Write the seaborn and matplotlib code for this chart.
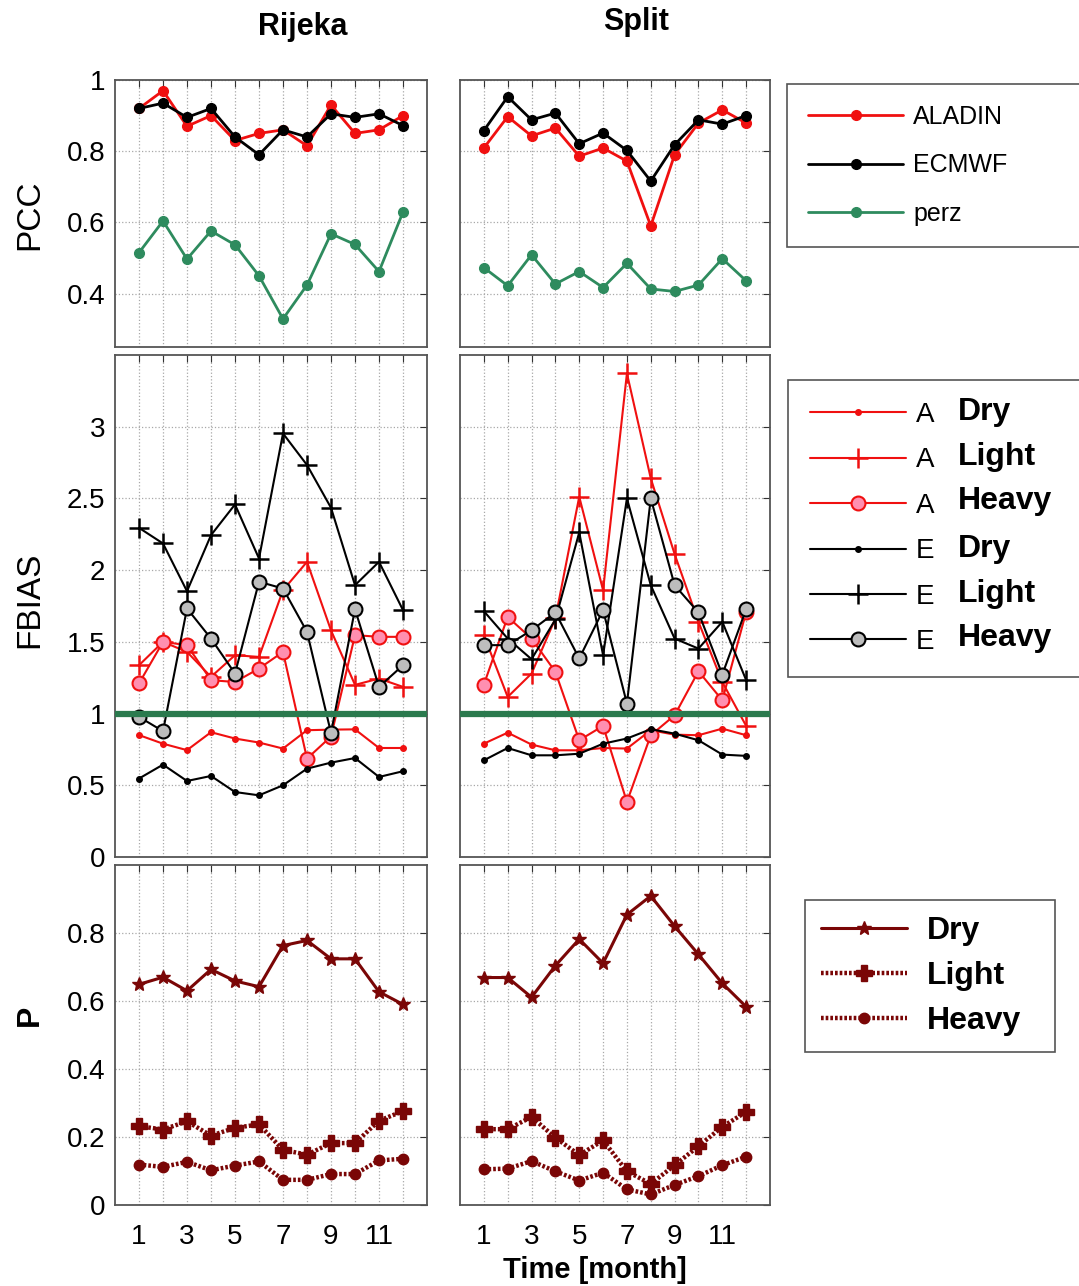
import matplotlib
matplotlib.use("Agg")
import matplotlib.pyplot as plt
import seaborn as sns

# data (month 1..12)
months = list(range(1, 13))

# PCC
pcc_rij_aladin = [0.92, 0.97, 0.87, 0.90, 0.83, 0.85, 0.86, 0.815, 0.93, 0.85, 0.86, 0.90]
pcc_rij_ecmwf = [0.92, 0.935, 0.895, 0.92, 0.84, 0.79, 0.86, 0.84, 0.905, 0.895, 0.905, 0.872]
pcc_rij_perz = [0.515, 0.604, 0.497, 0.576, 0.537, 0.45, 0.329, 0.424, 0.568, 0.538, 0.462, 0.629]
pcc_spl_aladin = [0.809, 0.897, 0.843, 0.865, 0.786, 0.809, 0.772, 0.59, 0.79, 0.879, 0.916, 0.879]
pcc_spl_ecmwf = [0.858, 0.953, 0.888, 0.907, 0.821, 0.851, 0.802, 0.716, 0.818, 0.888, 0.876, 0.90]
pcc_spl_perz = [0.473, 0.422, 0.509, 0.427, 0.462, 0.417, 0.485, 0.413, 0.406, 0.424, 0.498, 0.436]

# FBIAS  (A = ALADIN, E = ECMWF)
fb_rij_a_dry = [0.85, 0.79, 0.745, 0.87, 0.826, 0.798, 0.756, 0.884, 0.888, 0.89, 0.76, 0.76]
fb_rij_a_light = [1.337, 1.50, 1.43, 1.256, 1.407, 1.395, 1.86, 2.058, 1.58, 1.20, 1.244, 1.186]
fb_rij_a_heavy = [1.21, 1.50, 1.477, 1.233, 1.22, 1.314, 1.43, 0.686, 0.84, 1.547, 1.535, 1.535]
fb_rij_e_dry = [0.547, 0.644, 0.53, 0.565, 0.453, 0.43, 0.50, 0.616, 0.658, 0.69, 0.558, 0.598]
fb_rij_e_light = [2.295, 2.186, 1.853, 2.244, 2.458, 2.081, 2.953, 2.733, 2.435, 1.895, 2.058, 1.721]
fb_rij_e_heavy = [0.977, 0.877, 1.733, 1.523, 1.279, 1.919, 1.872, 1.57, 0.865, 1.728, 1.186, 1.337]

fb_spl_a_dry = [0.79, 0.867, 0.784, 0.744, 0.744, 0.76, 0.756, 0.884, 0.853, 0.849, 0.895, 0.849]
fb_spl_a_light = [1.547, 1.116, 1.279, 1.663, 2.512, 1.86, 3.372, 2.64, 2.112, 1.64, 1.22, 0.914]
fb_spl_a_heavy = [1.202, 1.674, 1.523, 1.291, 0.814, 0.914, 0.384, 0.849, 0.988, 1.295, 1.093, 1.709]
fb_spl_e_dry = [0.674, 0.76, 0.709, 0.709, 0.72, 0.79, 0.826, 0.891, 0.86, 0.814, 0.714, 0.705]
fb_spl_e_light = [1.714, 1.523, 1.379, 1.656, 2.263, 1.407, 2.50, 1.895, 1.523, 1.453, 1.64, 1.233]
fb_spl_e_heavy = [1.477, 1.477, 1.581, 1.705, 1.384, 1.721, 1.07, 2.50, 1.895, 1.705, 1.272, 1.728]

# P
p_rij_dry = [0.649, 0.67, 0.63, 0.693, 0.659, 0.642, 0.763, 0.778, 0.724, 0.724, 0.627, 0.59]
p_rij_light = [0.232, 0.222, 0.246, 0.204, 0.227, 0.237, 0.162, 0.148, 0.182, 0.182, 0.248, 0.276]
p_rij_heavy = [0.119, 0.112, 0.127, 0.102, 0.116, 0.128, 0.074, 0.074, 0.091, 0.091, 0.131, 0.136]
p_spl_dry = [0.669, 0.669, 0.611, 0.704, 0.782, 0.711, 0.854, 0.909, 0.82, 0.737, 0.652, 0.583]
p_spl_light = [0.223, 0.223, 0.259, 0.198, 0.147, 0.19, 0.099, 0.062, 0.117, 0.173, 0.23, 0.274]
p_spl_heavy = [0.105, 0.107, 0.129, 0.099, 0.072, 0.095, 0.046, 0.031, 0.059, 0.085, 0.117, 0.142]

RED = "#f01010"
BLACK = "#000000"
GREEN = "#2e8b5e"
MAROON = "#7a0606"
PINK = "#ff8fb0"
GREY = "#bdbdbd"

sns.set_theme(style="white")
plt.rcParams["font.family"] = ["Liberation Sans", "DejaVu Sans"]
plt.rcParams["text.color"] = "black"
plt.rcParams["xtick.color"] = "black"
plt.rcParams["ytick.color"] = "black"
plt.rcParams["axes.labelcolor"] = "black"

fig = plt.figure(figsize=(10.79, 12.86), dpi=100)
W, H = 1079.0, 1286.0


def box(x0, y0, x1, y1):
    return [x0 / W, 1 - y1 / H, (x1 - x0) / W, (y1 - y0) / H]


cols = [(115, 427), (460, 770)]
rows = [(80, 347), (355, 857), (865, 1205)]

axes = [[fig.add_axes(box(c[0], r[0], c[1], r[1])) for c in cols] for r in rows]


def style_axis(ax, yticks, ylabels, ylim, show_x, show_y):
    ax.set_xlim(0, 13)
    ax.set_ylim(*ylim)
    ax.set_xticks(months)
    if show_x:
        ax.set_xticklabels([str(m) if m % 2 == 1 else "" for m in months])
    else:
        ax.set_xticklabels([])
    ax.set_yticks(yticks)
    ax.set_yticklabels(ylabels if show_y else [])
    ax.grid(True, ls=":", color="#a8a8a8", lw=0.9)
    ax.tick_params(direction="in", top=True, right=True, length=5, width=0.8,
                   color="#333333", labelcolor="black", labelsize=20, pad=7)
    ax.tick_params(axis="x", pad=14)
    for s in ax.spines.values():
        s.set_color("#555555")
        s.set_linewidth(1.3)
    ax.set_xlabel("")
    ax.set_ylabel("")


def line(ax, y, color, marker, ms, lw=1.6, ls="-", mfc=None, mec=None, mew=1.0):
    sns.lineplot(x=months, y=y, ax=ax, color=color, marker=marker, ms=ms, lw=lw,
                 ls=ls, mfc=mfc if mfc else color, mec=mec if mec else color,
                 mew=mew, errorbar=None, legend=False)
    return ax.lines[-1]


# ---- PCC row
pcc = [(pcc_rij_aladin, pcc_rij_ecmwf, pcc_rij_perz),
       (pcc_spl_aladin, pcc_spl_ecmwf, pcc_spl_perz)]
for j, (al, ec, pz) in enumerate(pcc):
    ax = axes[0][j]
    h1 = line(ax, al, RED, "o", 7, lw=2.0)
    h2 = line(ax, ec, BLACK, "o", 7, lw=2.0)
    h3 = line(ax, pz, GREEN, "o", 7, lw=2.0)
    style_axis(ax, [0.4, 0.6, 0.8, 1.0], ["0.4", "0.6", "0.8", "1"], (0.25, 1.0),
               False, j == 0)
    if j == 0:
        pcc_handles = [h1, h2, h3]

# ---- FBIAS row
fb = [(fb_rij_a_dry, fb_rij_a_light, fb_rij_a_heavy, fb_rij_e_dry, fb_rij_e_light, fb_rij_e_heavy),
      (fb_spl_a_dry, fb_spl_a_light, fb_spl_a_heavy, fb_spl_e_dry, fb_spl_e_light, fb_spl_e_heavy)]
for j, (ad, al, ah, ed, el, eh) in enumerate(fb):
    ax = axes[1][j]
    ax.axhline(1, color="#2b7a4e", lw=4.5, zorder=3)
    g1 = line(ax, ad, RED, "o", 4, lw=1.5)
    g2 = line(ax, al, RED, "+", 15, lw=1.5, mew=1.8)
    g3 = line(ax, ah, RED, "o", 10, lw=1.5, mfc=PINK, mec=RED, mew=1.5)
    g4 = line(ax, ed, BLACK, "o", 4, lw=1.5)
    g5 = line(ax, el, BLACK, "+", 15, lw=1.5, mew=1.8)
    g6 = line(ax, eh, BLACK, "o", 10, lw=1.5, mfc=GREY, mec=BLACK, mew=1.5)
    style_axis(ax, [0, 0.5, 1, 1.5, 2, 2.5, 3],
               ["0", "0.5", "1", "1.5", "2", "2.5", "3"], (0, 3.5), False, j == 0)
    if j == 0:
        fb_handles = [g1, g2, g3, g4, g5, g6]

# ---- P row
pp = [(p_rij_dry, p_rij_light, p_rij_heavy), (p_spl_dry, p_spl_light, p_spl_heavy)]
dots = (0, (0.6, 0.45))
for j, (d, l, hv) in enumerate(pp):
    ax = axes[2][j]
    k1 = line(ax, d, MAROON, "*", 10, lw=2.2)
    k2 = line(ax, l, MAROON, "P", 12, lw=3.2, ls=dots)
    k3 = line(ax, hv, MAROON, "o", 7.5, lw=3.2, ls=dots)
    style_axis(ax, [0, 0.2, 0.4, 0.6, 0.8], ["0", "0.2", "0.4", "0.6", "0.8"],
               (0, 1.0), True, j == 0)
    if j == 0:
        p_handles = [k1, k2, k3]

# ---- titles and labels
fig.text(303 / W, 1 - 27 / H, "Rijeka", ha="center", va="center", fontsize=22, fontweight="bold")
fig.text(636 / W, 1 - 22 / H, "Split", ha="center", va="center", fontsize=22, fontweight="bold")
fig.text(595 / W, 1 - 1270 / H, "Time [month]", ha="center", va="center", fontsize=21, fontweight="bold")
fig.text(30 / W, 1 - 215 / H, "PCC", ha="center", va="center", rotation=90, fontsize=24)
fig.text(30 / W, 1 - 600 / H, "FBIAS", ha="center", va="center", rotation=90, fontsize=24)
fig.text(30 / W, 1 - 1015 / H, "P", ha="center", va="center", rotation=90, fontsize=23, fontweight="bold")

# ---- legends
leg_kw = dict(frameon=True, fancybox=False, shadow=False, edgecolor="#555555",
              framealpha=1.0, borderaxespad=0, mode="expand")

leg1 = fig.legend(pcc_handles, ["ALADIN", "ECMWF", "perz"], loc="upper left",
                  bbox_to_anchor=(787 / W, 1 - 85 / H, 310 / W, 0.001),
                  fontsize=18, handlelength=3.8, handletextpad=0.4, labelspacing=0.98,
                  borderpad=0.85, **leg_kw)
leg1.get_frame().set_linewidth(1.2)

leg2 = fig.legend(fb_handles, ["A", "A", "A", "E", "E", "E"], loc="upper left",
                  bbox_to_anchor=(788 / W, 1 - 381 / H, 310 / W, 0.001),
                  fontsize=20, handlelength=3.45, handletextpad=0.35, labelspacing=0.7,
                  borderpad=0.8, **leg_kw)
leg2.get_frame().set_linewidth(1.2)
for name, yy in zip(["Dry", "Light", "Heavy", "Dry", "Light", "Heavy"],
                    [412, 457, 501, 549, 594, 638]):
    fig.text(958 / W, 1 - yy / H, name, ha="left", va="center", fontsize=23,
             fontweight="bold", zorder=20)

leg3 = fig.legend(p_handles, ["Dry", "Light", "Heavy"], loc="upper left",
                  bbox_to_anchor=(805 / W, 1 - 901 / H, 250 / W, 0.001),
                  prop={"size": 23, "weight": "bold"}, handlelength=2.7, handletextpad=0.6,
                  labelspacing=0.48, borderpad=0.5, **leg_kw)
leg3.get_frame().set_linewidth(1.2)

fig.savefig("out.png", dpi=100, facecolor="white")
